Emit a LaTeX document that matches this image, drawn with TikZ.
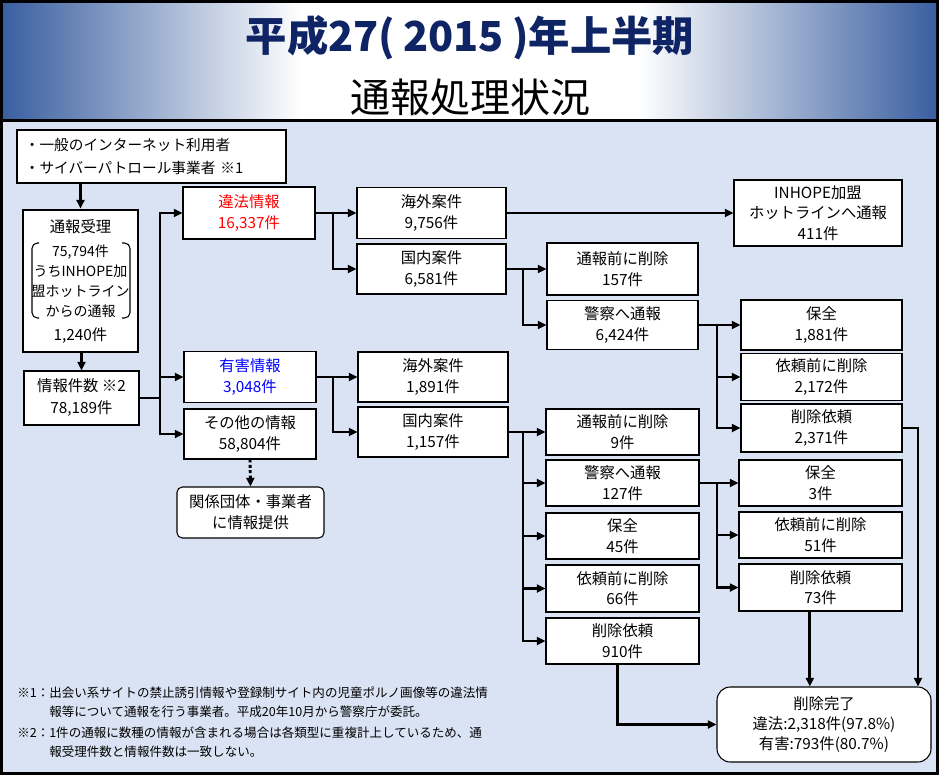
\documentclass[tikz,border=0pt]{standalone}
\usepackage{fontspec}
\setmainfont{Noto Sans CJK JP}
\usetikzlibrary{arrows.meta}
\definecolor{edgeblue}{RGB}{58,95,160}
\definecolor{bodyblue}{RGB}{218,227,243}
\definecolor{titleblue}{RGB}{14,36,100}
\pgfdeclarehorizontalshading{titleband}{100bp}{color(0bp)=(edgeblue); color(25bp)=(edgeblue);
  color(41bp)=(white); color(59bp)=(white); color(75bp)=(edgeblue); color(100bp)=(edgeblue)}
\tikzset{
  kbox/.style={draw, fill=white, line width=0.8pt, align=center, inner sep=0pt,
    font=\fontsize{11.5}{15.5}\selectfont},
  sz/.style 2 args={minimum width=#1*0.75pt, minimum height=#2*0.75pt},
  conn/.style={line width=2.2pt},
  arr/.style={conn, -{Triangle[length=6.5pt,width=6pt]}},
  note/.style={anchor=west, align=left, inner sep=0pt, font=\fontsize{9.4}{14.5}\selectfont}
}
\begin{document}
\begin{tikzpicture}[x=0.75pt,y=-0.75pt]
  \useasboundingbox (0,0) rectangle (939,775);
  % frame, title band and body
  \fill[black] (0,0) rectangle (939,775);
  \shade[shading=titleband] (3,3) rectangle (936,118);
  \fill[bodyblue] (3,122) rectangle (936,772);

  \node[font=\fontsize{31}{31}\selectfont\bfseries, text=titleblue] (title) at (470,38)
    {平成27(\hspace{.2em}2015\hspace{.2em})年上半期};
  \node[font=\fontsize{30}{30}\selectfont] (subtitle) at (470,97) {通報処理状況};

  % left column
  \node[kbox, sz={269}{53}, text width=190pt, align=left, font=\fontsize{11}{17}\selectfont] (src) at (151.5,156.5)
    {・一般のインターネット利用者\\・サイバーパトロール事業者 ※1};
  \node[kbox, sz={115}{142}, line width=2.2pt, font=\fontsize{10.5}{15}\selectfont] (recv) at (80.5,281)
    {{\fontsize{11.5}{15}\selectfont 通報受理}\\[3pt]75,794件\\うちINHOPE加\\盟ホットライン\\からの通報\\[3pt]{\fontsize{11.5}{15}\selectfont 1,240件}};
  \draw[line width=0.8pt, rounded corners=4pt] (39,243) -- (32,243) -- (32,318) -- (39,318);
  \draw[line width=0.8pt, rounded corners=4pt] (122,243) -- (130,243) -- (130,318) -- (122,318);
  \node[kbox, sz={115}{54}, font=\fontsize{11.5}{16.5}\selectfont] (info) at (81.5,398) {情報件数 ※2\\78,189件};

  % information types
  \node[kbox, sz={132}{52}, text=red] (ill) at (249,213) {違法情報\\16,337件};
  \node[kbox, sz={132}{51}, text=blue] (harm) at (250,377) {有害情報\\3,048件};
  \node[kbox, sz={132}{50}] (oth) at (250,434) {その他の情報\\58,804件};
  \node[kbox, sz={147}{51}, rounded corners=4pt] (rel) at (250.5,512.5) {関係団体・事業者\\に情報提供};

  % illegal branch
  \node[kbox, sz={149}{51}] (ovs1) at (431.5,213) {海外案件\\9,756件};
  \node[kbox, sz={149}{50}] (dom1) at (431.5,269) {国内案件\\6,581件};
  \node[kbox, sz={168}{66}] (inh) at (818,213) {INHOPE加盟\\ホットラインへ通報\\411件};
  \node[kbox, sz={151}{52}] (del1) at (622.5,269) {通報前に削除\\157件};
  \node[kbox, sz={151}{49}] (pol1) at (622.5,325) {警察へ通報\\6,424件};
  \node[kbox, sz={161}{50}] (hz1) at (821.5,325) {保全\\1,881件};
  \node[kbox, sz={161}{47}] (bd1) at (821.5,377) {依頼前に削除\\2,172件};
  \node[kbox, sz={161}{48}] (rq1) at (821.5,428) {削除依頼\\2,371件};

  % harmful branch
  \node[kbox, sz={150}{50}] (ovs2) at (433,377) {海外案件\\1,891件};
  \node[kbox, sz={150}{50}] (dom2) at (433,432) {国内案件\\1,157件};
  \node[kbox, sz={153}{46}] (del2) at (622.5,432) {通報前に削除\\9件};
  \node[kbox, sz={153}{46}] (pol2) at (622.5,483) {警察へ通報\\127件};
  \node[kbox, sz={153}{46}] (hz2s) at (622.5,536) {保全\\45件};
  \node[kbox, sz={153}{47}] (bd2s) at (622.5,588.5) {依頼前に削除\\66件};
  \node[kbox, sz={153}{46}] (rq2s) at (622.5,641) {削除依頼\\910件};
  \node[kbox, sz={163}{46}] (hz2) at (820.5,483) {保全\\3件};
  \node[kbox, sz={163}{46}] (bd2) at (820.5,535) {依頼前に削除\\51件};
  \node[kbox, sz={163}{47}] (rq2) at (820.5,587.5) {削除依頼\\73件};

  \node[kbox, sz={214}{75}, rounded corners=10pt, font=\fontsize{11.5}{15}\selectfont] (done) at (824,724.5)
    {削除完了\\違法:2,318件(97.8\%)\\有害:793件(80.7\%)};

  % connectors
  \draw[arr] (src.south -| recv.north) -- (recv.north);
  \draw[arr] (recv.south -| info.north) -- (info.north);
  \coordinate (jA) at (160,398);
  \draw[conn] (info.east) -- (jA);
  \draw[arr] (jA) |- (ill.west);
  \draw[arr] (jA) |- (harm.west);
  \draw[arr] (jA) |- (oth.west);
  \draw[arr, dash pattern=on 2.2pt off 1.8pt] (oth.south) -- (rel.north);

  \coordinate (jB) at (333,213);
  \draw[arr] (ill.east) -- (ovs1.west);
  \draw[arr] (jB) |- (dom1.west);
  \draw[arr] (ovs1.east) -- (inh.west);
  \coordinate (jC) at (523,269);
  \draw[arr] (dom1.east) -- (del1.west);
  \draw[arr] (jC) |- (pol1.west);
  \coordinate (jD) at (717,325);
  \draw[arr] (pol1.east) -- (hz1.west);
  \draw[arr] (jD) |- (bd1.west);
  \draw[arr] (jD) |- (rq1.west);
  \coordinate (jF) at (918,428);
  \draw[arr] (rq1.east) -- (jF) -- (jF |- done.north);

  \coordinate (jE) at (333,377);
  \draw[arr] (harm.east) -- (ovs2.west);
  \draw[arr] (jE) |- (dom2.west);
  \coordinate (jG) at (523,432);
  \draw[arr] (dom2.east) -- (del2.west);
  \draw[arr] (jG) |- (pol2.west);
  \draw[arr] (jG) |- (hz2s.west);
  \draw[arr] (jG) |- (bd2s.west);
  \draw[arr] (jG) |- (rq2s.west);
  \coordinate (jH) at (717,483);
  \draw[arr] (pol2.east) -- (hz2.west);
  \draw[arr] (jH) |- (bd2.west);
  \draw[arr] (jH) |- (rq2.west);
  \draw[arr] ([xshift=-8pt]rq2.south) -- ([xshift=-8pt]rq2.south |- done.north);
  \draw[arr] ([xshift=-4pt]rq2s.south) |- (done.west);

  % footnotes
  \node[note] (fn1) at (17,702.5)
    {※1：出会い系サイトの禁止誘引情報や登録制サイト内の児童ポルノ画像等の違法情\\\phantom{※1：}報等について通報を行う事業者。平成20年10月から警察庁が委託。};
  \node[note] (fn2) at (17,742.5)
    {※2：1件の通報に数種の情報が含まれる場合は各類型に重複計上しているため、通\\\phantom{※2：}報受理件数と情報件数は一致しない。};
\end{tikzpicture}
\end{document}
